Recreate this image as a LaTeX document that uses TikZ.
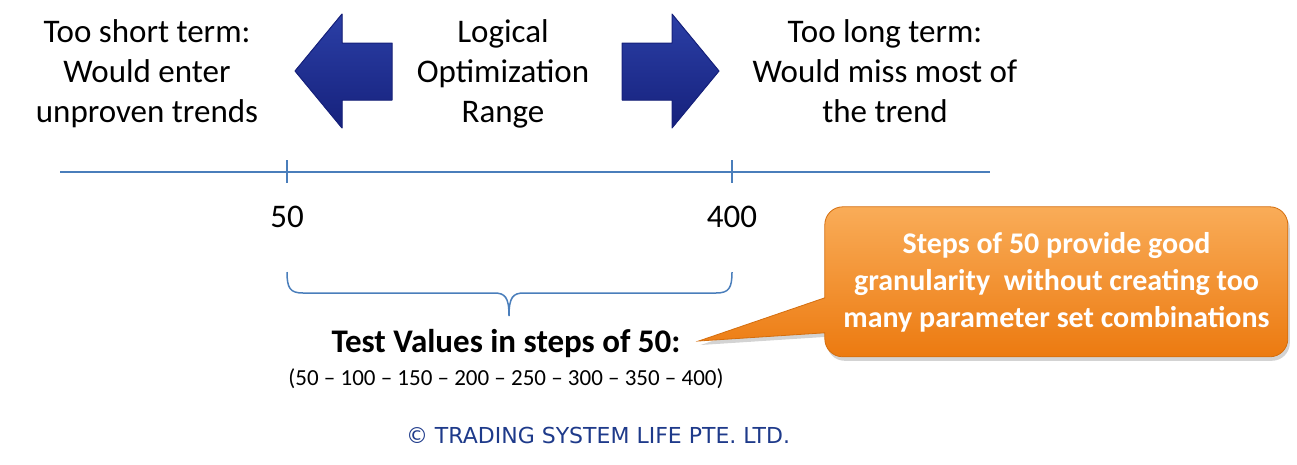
\documentclass[tikz,border=0pt]{standalone}
\usepackage{fontspec}
\setmainfont{Carlito}
\newfontfamily\copyfont{DejaVu Sans}
\usetikzlibrary{positioning, calc, shadows, backgrounds}
\definecolor{axisBlue}{HTML}{4A7EBB}
\definecolor{arrTop}{HTML}{2B3FA6}
\definecolor{arrBot}{HTML}{16217C}
\definecolor{noteTop}{HTML}{F9AC58}
\definecolor{noteBot}{HTML}{EC7A10}
\definecolor{copyBlue}{HTML}{1E3A8A}
\tikzset{
  bigtxt/.style={font=\fontsize{33}{40}\selectfont},
  blockarrow/.style={top color=arrTop, bottom color=arrBot, draw=arrBot, line width=1, line join=round},
  axisline/.style={draw=axisBlue, line width=2},
  notebox/.style={top color=noteTop, bottom color=noteBot, draw=noteBot!90!black, line width=0.8},
}
\begin{document}
\begin{tikzpicture}[x=1pt, y=-1pt, every node/.style={inner sep=0pt, align=center}]
    \useasboundingbox (0,0) rectangle (1297,464);
    \node[bigtxt, anchor=north] (shortT) at (147,19.5) {Too short term:\\Would enter\\unproven trends};
    \node[bigtxt, anchor=north] (rangeT) at (503,19.5) {Logical\\Optimization\\Range};
    \node[bigtxt, anchor=north] (longT) at (885,19.5) {Too long term:\\Would miss most of\\the trend};
    \foreach \d in {-1,1} {
      \fill[blockarrow] ({507+\d*115},43) -- ({507+\d*165},43) -- ({507+\d*165},14) -- ({507+\d*212},71)
        -- ({507+\d*165},128) -- ({507+\d*165},100) -- ({507+\d*115},100) -- cycle;
    }
    \draw[axisline] (60,172) -- (990,172);
    \foreach \x/\v in {287/50, 732/400} {
      \draw[axisline, line width=1.5] (\x,160) -- (\x,183);
      \node[bigtxt] (v\v) at (\x,217) {\v};
    }
    \draw[axisline, line width=1.5] (287,272) .. controls (287,288) and (290,293) .. (303,293) -- (494,293)
      .. controls (505,293) and (509,297) .. (509,316) .. controls (509,297) and (513,293) .. (524,293)
      -- (716,293) .. controls (729,293) and (732,288) .. (732,272);
    \node[font=\fontsize{33}{40}\selectfont\bfseries] (test) at (506,344) {Test Values in steps of 50:};
    \node[font=\fontsize{23}{28}\selectfont, below=10pt of test] (vals) {(50 -- 100 -- 150 -- 200 -- 250 -- 300 -- 350 -- 400)};
    \node[font=\fontsize{22}{26}\copyfont, text=copyBlue] (copy) at (598,435) {\textcopyright{} TRADING SYSTEM LIFE PTE. LTD.};
    \node[minimum width=463, minimum height=150, text=white,
      font=\fontsize{30}{37}\selectfont\bfseries] (note) at (1056.5,282) {Steps of 50 provide good\\granularity~ without creating too\\many parameter set combinations};
    \coordinate (tip) at ($(test.east)+(18,-3)$);
    \begin{scope}[on background layer, shift={(note.north west)}]
      \draw[notebox, drop shadow={opacity=0.35, shadow xshift=2pt, shadow yshift=-4pt}]
        (0,91) -- (0,18) .. controls (0,8) and (8,0) .. (18,0) -- (445,0) .. controls (455,0) and (463,8) .. (463,18)
        -- (463,132) .. controls (463,142) and (455,150) .. (445,150) -- (18,150) .. controls (8,150) and (0,142) .. (0,132)
        -- (0,126) -- (tip) -- cycle;
    \end{scope}
\end{tikzpicture}
\end{document}
